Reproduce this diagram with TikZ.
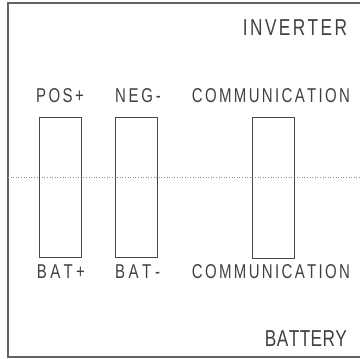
\documentclass[tikz,border=0pt]{standalone}
\usepackage{fontspec}
\setmainfont{Liberation Sans}[FakeStretch=0.75]
\newcommand{\spreadtxt}[2]{\makebox[#1][s]{#2}}
\tikzset{
  lbl/.style={anchor=base west, inner sep=0pt, outer sep=0pt, text=black!75,
    font=\fontsize{20}{20}\selectfont},
  ttl/.style={lbl, font=\fontsize{23}{23}\selectfont},
  port/.style={draw=black!72, line width=0.9pt, inner sep=0pt, minimum width=42pt},
  frame/.style={draw=black!62, line width=1.5pt},
  midline/.style={draw=black!45, dotted, line width=0.6pt}
}
\begin{document}
\begin{tikzpicture}[x=1pt,y=-1pt]
\useasboundingbox (0,0) rectangle (360,359);
% outer frame (open at the right)
\coordinate (ftr) at (362,3);
\coordinate (ftl) at (8,3);
\coordinate (fbl) at (8,357);
\coordinate (fbr) at (362,357);
\draw[frame] (ftr) -- (ftl) -- (fbl) -- (fbr);
% dotted separation line
\coordinate (dl) at (8,177);
\coordinate (dr) at (360,177);
\draw[midline] (dl) -- (dr);
% ports
\node[port, minimum height=140pt] (pos) at (60,187) {};
\node[port, minimum height=140pt] (neg) at (136,187) {};
\node[port, minimum height=141pt] (com) at (273,187.5) {};
% titles
\node[ttl] (inv) at (243,35) {\spreadtxt{104pt}{I\hfil N\hfil V\hfil E\hfil R\hfil T\hfil E\hfil R}};
\node[ttl] (bat) at (265,346) {\spreadtxt{82pt}{B\hfil A\hfil T\hfil T\hfil E\hfil R\hfil Y}};
% top labels
\node[lbl] (posl) at (36,102) {\spreadtxt{48pt}{P\hfil O\hfil S\hfil +}};
\node[lbl] (negl) at (115,102) {\spreadtxt{46pt}{N\hfil E\hfil G\hfil -}};
\node[lbl] (coml) at (192,102) {\spreadtxt{158pt}{C\hfil O\hfil M\hfil M\hfil U\hfil N\hfil I\hfil C\hfil A\hfil T\hfil I\hfil O\hfil N}};
% bottom labels
\node[lbl] (batp) at (37,278) {\spreadtxt{48pt}{B\hfil A\hfil T\hfil +}};
\node[lbl] (batn) at (115,278) {\spreadtxt{45pt}{B\hfil A\hfil T\hfil -}};
\node[lbl] (comb) at (192,278) {\spreadtxt{158pt}{C\hfil O\hfil M\hfil M\hfil U\hfil N\hfil I\hfil C\hfil A\hfil T\hfil I\hfil O\hfil N}};
\end{tikzpicture}
\end{document}
